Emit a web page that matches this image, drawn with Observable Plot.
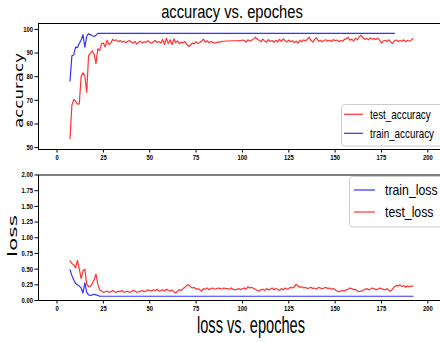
<!DOCTYPE html>
<html><head><meta charset="utf-8">
<script src="https://cdn.jsdelivr.net/npm/d3@7"></script>
<script src="https://cdn.jsdelivr.net/npm/@observablehq/plot@0.6"></script>
<style>
html,body{margin:0;padding:0;background:#fff;overflow:hidden;}
#wrap{position:relative;width:440px;height:342px;overflow:hidden;background:#fff;}
#wrap > svg{position:absolute;left:0;}
</style></head><body><div id="wrap"></div>
<script>
// ---------- data ----------
const epochs = d3.range(7, 193); // epochs 7..192
const testAcc = [
 53.8, 67.8, 70.4, 69.6, 68.4, 68.5, 80.2, 81.6, 80.4, 73.4,
 88.8, 90.0, 90.9, 89.4, 85.5, 91.9, 91.0, 94.0, 94.2, 92.6,
 95.4, 93.6, 94.1, 95.8, 95.2, 95.6, 94.8, 95.3, 94.6, 95.1,
 94.4, 94.9, 95.3, 94.7, 94.2, 94.9, 93.8, 94.6, 95.0, 94.3,
 94.8, 94.5, 95.2, 94.6, 94.1, 94.8, 95.3, 94.5, 94.9, 94.2,
 95.8, 93.6, 96.3, 94.0, 95.6, 93.5, 96.0, 94.4, 95.1, 94.0,
 94.6, 94.3, 94.9, 93.7, 92.8, 93.4, 94.2, 93.9, 94.8, 94.0,
 94.5, 95.1, 95.9, 94.6, 95.2, 94.3, 94.9, 94.5, 94.2, 94.4,
 94.7, 94.6, 95.0, 95.0, 95.1, 95.1, 95.1, 95.2, 95.2, 95.2,
 95.2, 95.3, 95.2, 95.5, 95.3, 94.6, 95.6, 95.0, 95.4, 96.0,
 96.7, 95.8, 95.4, 94.8, 95.9, 95.0, 94.6, 95.7, 94.9, 95.3,
 94.5, 95.4, 94.7, 95.8, 94.9, 96.0, 95.3, 94.7, 95.5, 94.8,
 95.2, 94.4, 95.0, 94.2, 95.4, 94.8, 95.6, 95.1, 95.9, 96.7,
 95.3, 94.6, 95.8, 96.5, 95.0, 95.4, 94.8, 95.3, 95.6, 95.0,
 95.4, 94.9, 95.7, 95.2, 95.5, 94.8, 95.3, 95.0, 95.8, 96.0,
 96.7, 95.4, 95.9, 95.1, 96.3, 95.6, 96.9, 97.5, 96.4, 95.8,
 96.2, 95.6, 96.4, 95.9, 96.1, 95.7, 96.3, 95.5, 94.2, 95.1,
 95.4, 94.9, 95.6, 94.7, 94.0, 95.2, 95.5, 94.9, 95.3, 95.0,
 95.6, 94.8, 95.3, 95.0, 95.4, 96.2
];
const trainAcc = [
 78.2, 88.8, 89.2, 92.5, 92.3, 94.0, 95.5, 97.8, 92.5, 97.0,
 98.2, 97.8, 97.3, 97.0, 97.5, 98.3,
 98.3, 98.3, 98.3, 98.3, 98.3, 98.3, 98.3, 98.3, 98.3, 98.3,
 98.3, 98.3, 98.3, 98.3, 98.3, 98.3, 98.3, 98.3, 98.3, 98.3,
 98.3, 98.3, 98.3, 98.3, 98.3, 98.3, 98.3, 98.3, 98.3, 98.3,
 98.3, 98.3, 98.3, 98.3, 98.3, 98.3, 98.3, 98.3, 98.3, 98.3,
 98.3, 98.3, 98.3, 98.3, 98.3, 98.3, 98.3, 98.3, 98.3, 98.3,
 98.3, 98.3, 98.3, 98.3, 98.3, 98.3, 98.3, 98.3, 98.3, 98.3,
 98.3, 98.3, 98.3, 98.3, 98.3, 98.3, 98.3, 98.3, 98.3, 98.3,
 98.3, 98.3, 98.3, 98.3, 98.3, 98.3, 98.3, 98.3, 98.3, 98.3,
 98.3, 98.3, 98.3, 98.3, 98.3, 98.3, 98.3, 98.3, 98.3, 98.3,
 98.3, 98.3, 98.3, 98.3, 98.3, 98.3, 98.3, 98.3, 98.3, 98.3,
 98.3, 98.3, 98.3, 98.3, 98.3, 98.3, 98.3, 98.3, 98.3, 98.3,
 98.3, 98.3, 98.3, 98.3, 98.3, 98.3, 98.3, 98.3, 98.3, 98.3,
 98.3, 98.3, 98.3, 98.3, 98.3, 98.3, 98.3, 98.3, 98.3, 98.3,
 98.3, 98.3, 98.3, 98.3, 98.3, 98.3, 98.3, 98.3, 98.3, 98.3,
 98.3, 98.3, 98.3, 98.3, 98.3, 98.3, 98.3, 98.3, 98.3, 98.3,
 98.3, 98.3, 98.3, 98.3, 98.3, 98.3, 98.3, 98.3, 98.3, 98.3
];
const testLoss = [
 0.63, 0.59, 0.57, 0.52, 0.64, 0.50, 0.35, 0.47, 0.50, 0.26,
 0.22, 0.23, 0.27, 0.33, 0.42, 0.26, 0.17, 0.15, 0.13, 0.14,
 0.15, 0.13, 0.14, 0.16, 0.14, 0.13, 0.15, 0.14, 0.16, 0.13,
 0.14, 0.15, 0.13, 0.14, 0.16, 0.15, 0.13, 0.14, 0.15, 0.16,
 0.14, 0.15, 0.17, 0.16, 0.15, 0.17, 0.16, 0.18, 0.15, 0.16,
 0.17, 0.15, 0.18, 0.16, 0.15, 0.17, 0.14, 0.12, 0.15, 0.17,
 0.16, 0.19, 0.21, 0.24, 0.25, 0.22, 0.20, 0.21, 0.18, 0.19,
 0.17, 0.15, 0.19, 0.18, 0.20, 0.17, 0.19, 0.20, 0.18, 0.19,
 0.20, 0.19, 0.18, 0.20, 0.19, 0.19, 0.18, 0.20, 0.18, 0.17,
 0.18, 0.19, 0.17, 0.19, 0.20, 0.18, 0.22, 0.20, 0.21, 0.19,
 0.18, 0.16, 0.15, 0.17, 0.18, 0.16, 0.19, 0.17, 0.18, 0.20,
 0.17, 0.19, 0.18, 0.16, 0.19, 0.17, 0.20, 0.18, 0.19, 0.21,
 0.20, 0.22, 0.26, 0.23, 0.21, 0.22, 0.20, 0.21, 0.19, 0.20,
 0.21, 0.19, 0.20, 0.18, 0.21, 0.20, 0.19, 0.20, 0.21, 0.19,
 0.20, 0.18, 0.19, 0.17, 0.15, 0.14, 0.15, 0.16, 0.15, 0.17,
 0.18, 0.20, 0.19, 0.17, 0.18, 0.15, 0.14, 0.15, 0.16, 0.18,
 0.19, 0.17, 0.18, 0.20, 0.19, 0.17, 0.18, 0.20, 0.19, 0.18,
 0.17, 0.19, 0.16, 0.15, 0.18, 0.22, 0.24, 0.23, 0.25, 0.22,
 0.24, 0.21, 0.23, 0.22, 0.23, 0.23
];
const trainLoss = [
 0.49, 0.40, 0.33, 0.27, 0.25, 0.23, 0.20, 0.12, 0.28, 0.13,
 0.09, 0.08, 0.09, 0.10, 0.09, 0.08, 0.07,
 0.068, 0.068, 0.068, 0.068, 0.068, 0.068, 0.068, 0.068, 0.068,
 0.068, 0.068, 0.068, 0.068, 0.068, 0.068, 0.068, 0.068, 0.068, 0.068,
 0.068, 0.068, 0.068, 0.068, 0.068, 0.068, 0.068, 0.068, 0.068, 0.068,
 0.068, 0.068, 0.068, 0.068, 0.068, 0.068, 0.068, 0.068, 0.068, 0.068,
 0.068, 0.068, 0.068, 0.068, 0.068, 0.068, 0.068, 0.068, 0.068, 0.068,
 0.068, 0.068, 0.068, 0.068, 0.068, 0.068, 0.068, 0.068, 0.068, 0.068,
 0.068, 0.068, 0.068, 0.068, 0.068, 0.068, 0.068, 0.068, 0.068, 0.068,
 0.068, 0.068, 0.068, 0.068, 0.068, 0.068, 0.068, 0.068, 0.068, 0.068,
 0.068, 0.068, 0.068, 0.068, 0.068, 0.068, 0.068, 0.068, 0.068, 0.068,
 0.068, 0.068, 0.068, 0.068, 0.068, 0.068, 0.068, 0.068, 0.068, 0.068,
 0.068, 0.068, 0.068, 0.068, 0.068, 0.068, 0.068, 0.068, 0.068, 0.068,
 0.068, 0.068, 0.068, 0.068, 0.068, 0.068, 0.068, 0.068, 0.068, 0.068,
 0.068, 0.068, 0.068, 0.068, 0.068, 0.068, 0.068, 0.068, 0.068, 0.068,
 0.068, 0.068, 0.068, 0.068, 0.068, 0.068, 0.068, 0.068, 0.068, 0.068,
 0.068, 0.068, 0.068, 0.068, 0.068, 0.068, 0.068, 0.068, 0.068, 0.068,
 0.068, 0.068, 0.068, 0.068, 0.068, 0.068, 0.068, 0.068, 0.068, 0.068,
 0.068, 0.068, 0.068, 0.068, 0.068, 0.068, 0.068, 0.068, 0.068, 0.068
];
const xTicks = [0, 25, 50, 75, 100, 125, 150, 175, 200];
const accTicks = [50, 60, 70, 80, 90, 100];
const lossTicks = [0, 0.25, 0.5, 0.75, 1.0, 1.25, 1.5, 1.75, 2.0];
const accSeries = ["test_accuracy", "train_accuracy"];
const lossSeries = ["train_loss", "test_loss"];
const seriesColors = {test_accuracy: "#ff3333", train_accuracy: "#3333ff", train_loss: "#3333ff", test_loss: "#ff3333"};
const titleText = "accuracy vs. epoches";
const xLabelText = "loss vs. epoches";
const yLabelTop = "accuracy";
const yLabelBottom = "loss";

// ---------- tables ----------
const accData = [];
epochs.forEach((e, i) => {
  accData.push({epoch: e, value: testAcc[i], series: "test_accuracy"});
});
epochs.forEach((e, i) => {
  accData.push({epoch: e, value: trainAcc[i], series: "train_accuracy"});
});
const lossData = [];
epochs.forEach((e, i) => {
  lossData.push({epoch: e, value: testLoss[i], series: "test_loss"});
});
epochs.forEach((e, i) => {
  lossData.push({epoch: e, value: trainLoss[i], series: "train_loss"});
});

const sans = "'Liberation Sans', Arial, sans-serif";
const tickStyle = {background: "transparent", fontFamily: sans, fontSize: "7.5px", fontWeight: "bold", color: "black", overflow: "hidden"};

const wrap = document.getElementById("wrap");

// narrow the tick labels horizontally (the reference uses a condensed face)
function squeeze(svg, sx) {
  d3.select(svg).selectAll("text").each(function() {
    const t = this.getAttribute("transform") || "";
    this.setAttribute("transform", (t + ` scale(${sx},1)`).trim());
  });
}

const accPlot = Plot.plot({
  width: 440, height: 168,
  marginTop: 23, marginBottom: 19, marginLeft: 38, marginRight: -4,
  style: tickStyle,
  x: {domain: [-10, 209], ticks: xTicks, tickSize: 3.5, tickPadding: 2, label: null},
  y: {domain: [49.2, 102.5], ticks: accTicks, tickSize: 3.5, tickPadding: 2, label: null},
  color: {domain: accSeries, range: accSeries.map(s => seriesColors[s])},
  marks: [
    Plot.line(accData, {x: "epoch", y: "value", stroke: "series", z: "series", strokeWidth: 1.2}),
    Plot.frame({stroke: "black", strokeWidth: 1})
  ]
});
squeeze(accPlot, 0.78);
accPlot.style.top = "0px";
wrap.appendChild(accPlot);

const lossPlot = Plot.plot({
  width: 440, height: 157,
  marginTop: 6.5, marginBottom: 25, marginLeft: 38, marginRight: -4,
  style: tickStyle,
  x: {domain: [-10, 209], ticks: xTicks, tickSize: 3.5, tickPadding: 2, label: null},
  y: {domain: [0, 2], ticks: lossTicks, tickFormat: d3.format(".2f"), tickSize: 3.5, tickPadding: 2, label: null},
  color: {domain: lossSeries, range: lossSeries.map(s => seriesColors[s])},
  marks: [
    Plot.line(lossData, {x: "epoch", y: "value", stroke: "series", z: "series", strokeWidth: 1.2}),
    Plot.frame({stroke: "black", strokeWidth: 1})
  ]
});
squeeze(lossPlot, 0.78);
lossPlot.style.top = "168px";
wrap.appendChild(lossPlot);

// ---------- overlay: titles, labels, legends ----------
const ov = d3.select(wrap).append("svg")
  .attr("width", 440).attr("height", 342)
  .style("top", "0px").style("pointer-events", "none");

ov.append("text").text(titleText)
  .attr("transform", "translate(232,18) scale(0.82,1)").attr("text-anchor", "middle")
  .attr("font-family", sans).attr("font-size", 18).attr("fill", "black");

ov.append("text").text(xLabelText)
  .attr("x", 251).attr("y", 333).attr("text-anchor", "middle")
  .attr("font-family", sans).attr("font-size", 24)
  .attr("textLength", 108).attr("lengthAdjust", "spacingAndGlyphs").attr("fill", "black");

ov.append("text").text(yLabelTop)
  .attr("transform", "translate(23,90.5) rotate(-90)").attr("text-anchor", "middle")
  .attr("font-family", "'DejaVu Sans', sans-serif").attr("font-size", 13)
  .attr("textLength", 75).attr("lengthAdjust", "spacingAndGlyphs").attr("fill", "black");

ov.append("text").text(yLabelBottom)
  .attr("transform", "translate(16.7,236) rotate(-90)").attr("text-anchor", "middle")
  .attr("font-family", "'DejaVu Sans', sans-serif").attr("font-size", 12.5)
  .attr("textLength", 42).attr("lengthAdjust", "spacingAndGlyphs").attr("fill", "black");

function legend(x, y, w, h, items, lineX0, lineX1, textX, rowY, fontSize) {
  const g = ov.append("g");
  g.append("rect").attr("x", x).attr("y", y).attr("width", w).attr("height", h)
    .attr("rx", 3).attr("fill", "white").attr("fill-opacity", 0.8)
    .attr("stroke", "#cccccc").attr("stroke-width", 1);
  items.forEach((s, i) => {
    g.append("line").attr("x1", lineX0).attr("x2", lineX1)
      .attr("y1", rowY[i]).attr("y2", rowY[i])
      .attr("stroke", seriesColors[s]).attr("stroke-width", 1.2);
    g.append("text").text(s)
      .attr("transform", `translate(${textX},${rowY[i]}) scale(0.82,1)`)
      .attr("dy", "0.35em").attr("font-family", sans).attr("font-size", fontSize).attr("fill", "black");
  });
}
legend(341.5, 104.5, 110, 41.5, accSeries, 344, 363, 370, [114.3, 133.3], 12);
legend(349.5, 176.5, 100, 50.5, lossSeries, 354, 375, 385, [190, 212], 15);
</script></body></html>
